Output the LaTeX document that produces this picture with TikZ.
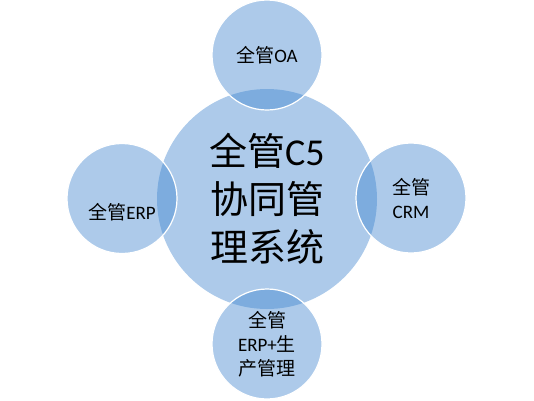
\documentclass[tikz,border=0pt]{standalone}
\usepackage{fontspec}
\setmainfont{Carlito}
\newfontfamily\cjk{Noto Sans CJK SC}
\newcommand{\zh}[1]{{\cjk #1}}
\definecolor{ballblue}{RGB}{64,133,207}

\begin{document}
\begin{tikzpicture}[x=1pt,y=-1pt,
  ball/.style={circle, fill=ballblue, fill opacity=0.43, text opacity=1,
    inner sep=0pt, align=center},
  hub/.style={ball, minimum size=220pt, font=\fontsize{38}{48}\selectfont},
  satellite/.style={ball, minimum size=110pt, draw=white, draw opacity=1,
    line width=1.2pt, font=\fontsize{19}{24}\selectfont},
  satlabel/.style={align=center, font=\fontsize{19}{24}\selectfont}]

\useasboundingbox (0,0) rectangle (534,400);

% central system
\node[hub] (c5) at (267,199) {\zh{全管}C5\\\zh{协同管}\\\zh{理系统}};

% the four modules around it
\node[satellite] (oa) at (267,55) {\zh{全管}OA};
\node[satellite] (crm) at (411,198) {\zh{全管}\\CRM};
\node[satellite] (prod) at (267,344) {\zh{全管}\\ERP+\zh{生}\\\zh{产管理}};
\node[satellite] (erp) at (122,198.5) {};
\node[satlabel] (erptext) at (122,212) {\zh{全管}ERP};

\end{tikzpicture}
\end{document}
